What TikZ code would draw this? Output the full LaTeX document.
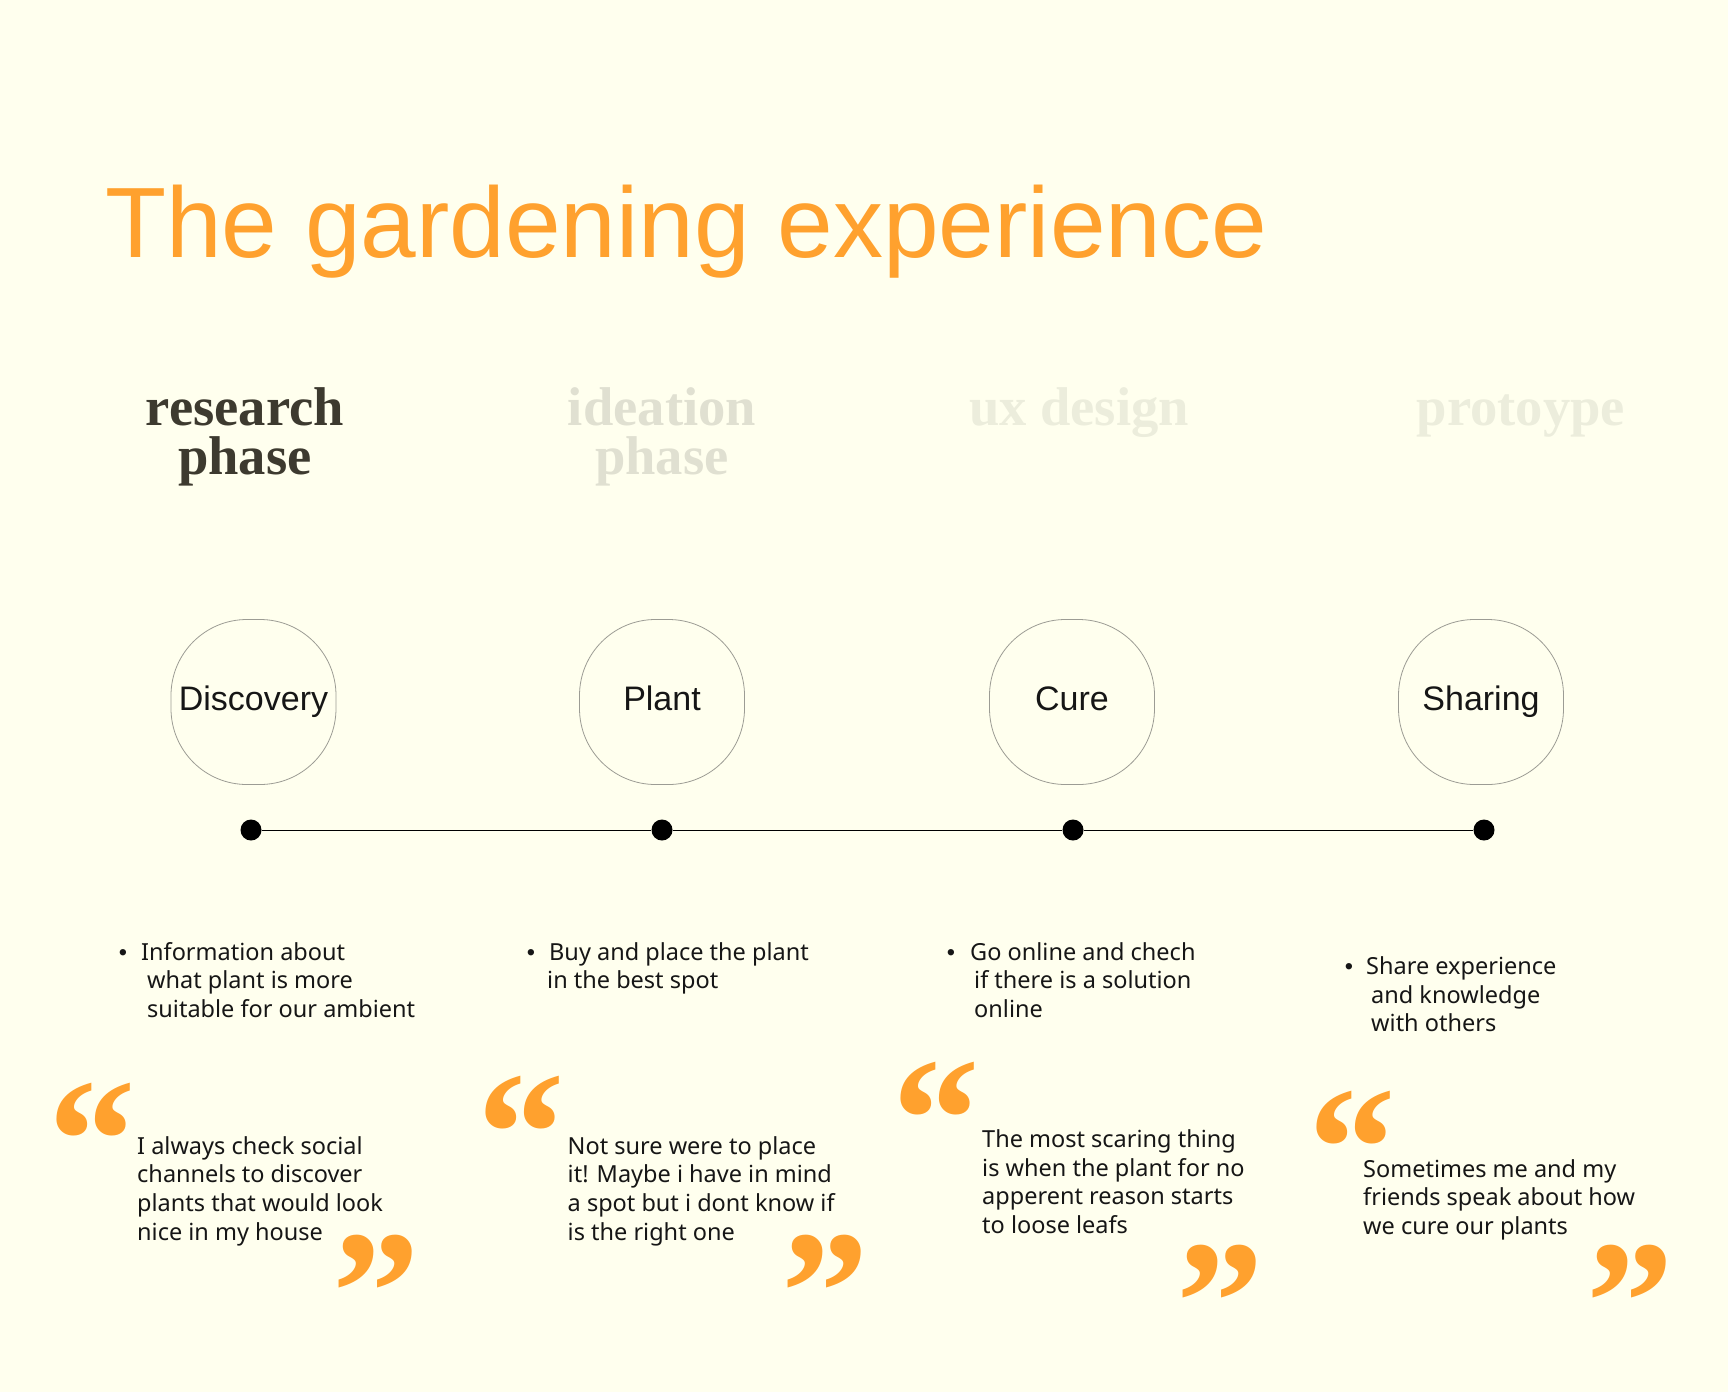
\documentclass[tikz,border=0pt]{standalone}
\usepackage{fontspec}
\setmainfont{Noto Sans}
\newfontfamily\headfont{Liberation Sans}
\newfontfamily\phasefont{Liberation Serif}
\definecolor{paper}{HTML}{FFFFEE}
\definecolor{accent}{HTML}{FFA12E}
\definecolor{phasedark}{HTML}{3D3A2F}
\definecolor{phaselight}{HTML}{E0E0D1}
\definecolor{phasefaint}{HTML}{ECEDDC}
\definecolor{ring}{HTML}{9C9C94}
\definecolor{ink}{HTML}{161616}

\begin{document}
\begin{tikzpicture}[x=1pt,y=-1pt,
    body/.style={anchor=base west,inner sep=0pt,text=ink,font=\fontsize{23.5}{28}\selectfont},
    bulletmark/.style={anchor=base,inner sep=0pt,text=ink,font=\headfont\fontsize{23.5}{28}\selectfont},
    quotemark/.style={anchor=base west,inner sep=0pt,text height=0.69em,text depth=-0.37em,text=accent,font=\phasefont\bfseries\fontsize{175}{175}\selectfont},
    phase/.style={anchor=base,inner sep=0pt,font=\phasefont\bfseries\fontsize{54.6}{54.6}\selectfont},
    stage/.style={draw=ring,line width=0.8pt,rounded corners=76pt,minimum size=165pt,inner sep=0pt,text height=24pt,text depth=7pt,text=ink,font=\headfont\fontsize{34}{34}\selectfont},
    stop/.style={circle,fill=black,minimum size=21pt,inner sep=0pt}]
    \useasboundingbox (0, 0) rectangle (1728, 1392);
    \fill[paper] (0, 0) rectangle (1728, 1392);
    % title
    \node[anchor=base west,inner sep=0pt,text=accent,font=\headfont\fontsize{100}{100}\selectfont] (title) at (105, 257) {The gardening experience};
    % phases
    \node[phase,text=phasedark] (research) at (245, 425) {research};
    \node[phase,text=phasedark] (researchb) at (245, 474) {phase};
    \node[phase,text=phaselight] (ideation) at (662, 425) {ideation};
    \node[phase,text=phaselight] (ideationb) at (662, 474) {phase};
    \node[phase,text=phasefaint] (uxdesign) at (1079, 425) {ux design};
    \node[phase,text=phasefaint] (protoype) at (1521, 425) {protoype};
    % stages
    \node[stage] (discovery) at (253.5, 702) {Discovery};
    \node[stage] (plant) at (662, 702) {Plant};
    \node[stage] (cure) at (1072, 702) {Cure};
    \node[stage] (sharing) at (1481, 702) {Sharing};
    % timeline
    \node[stop] (d1) at (251, 830) {};
    \node[stop] (d2) at (662, 830) {};
    \node[stop] (d3) at (1073, 830) {};
    \node[stop] (d4) at (1484, 830) {};
    \draw[line width=0.8pt] (d1) -- (d2) -- (d3) -- (d4);
    % notes
    \node[bulletmark] (n1) at (123, 960) {•};
    \node[body] (n1a) at (141, 960) {Information about};
    \node[body] (n1b) at (147, 988.5) {what plant is more};
    \node[body] (n1c) at (147, 1017) {suitable for our ambient};
    \node[bulletmark] (n2) at (531, 960) {•};
    \node[body] (n2a) at (549, 960) {Buy and place the plant};
    \node[body] (n2b) at (547, 988.5) {in the best spot};
    \node[bulletmark] (n3) at (951, 960) {•};
    \node[body] (n3a) at (970, 960) {Go online and chech};
    \node[body] (n3b) at (974, 988.5) {if there is a solution};
    \node[body] (n3c) at (974, 1017) {online};
    \node[bulletmark] (n4) at (1349, 974) {•};
    \node[body] (n4a) at (1366, 974) {Share experience};
    \node[body] (n4b) at (1371, 1003) {and knowledge};
    \node[body] (n4c) at (1371, 1031.5) {with others};
    % quotes
    \node[quotemark] (q1open) at (48.7, 1199.3) {“};
    \node[body] (q1a) at (137, 1154) {I always check social};
    \node[body] (q1b) at (137, 1182.5) {channels to discover};
    \node[body] (q1c) at (137, 1211) {plants that would look};
    \node[body] (q1d) at (137, 1240) {nice in my house};
    \node[quotemark] (q1close) at (332.5, 1351) {”};
    \node[quotemark] (q2open) at (477.7, 1192.8) {“};
    \node[body] (q2a) at (567.5, 1154) {Not sure were to place};
    \node[body] (q2b) at (567.5, 1182.5) {it! Maybe i have in mind};
    \node[body] (q2c) at (567.5, 1211) {a spot but i dont know if};
    \node[body] (q2d) at (567.5, 1240) {is the right one};
    \node[quotemark] (q2close) at (781, 1351) {”};
    \node[quotemark] (q3open) at (892.7, 1178.3) {“};
    \node[body] (q3a) at (982, 1147) {The most scaring thing};
    \node[body] (q3b) at (982, 1176) {is when the plant for no};
    \node[body] (q3c) at (982, 1204.5) {apperent reason starts};
    \node[body] (q3d) at (982, 1233) {to loose leafs};
    \node[quotemark] (q3close) at (1176, 1361) {”};
    \node[quotemark] (q4open) at (1308.7, 1207.8) {“};
    \node[body] (q4a) at (1363, 1177) {Sometimes me and my};
    \node[body] (q4b) at (1363, 1205.5) {friends speak about how};
    \node[body] (q4c) at (1363, 1234) {we cure our plants};
    \node[quotemark] (q4close) at (1586, 1361) {”};
\end{tikzpicture}
\end{document}
